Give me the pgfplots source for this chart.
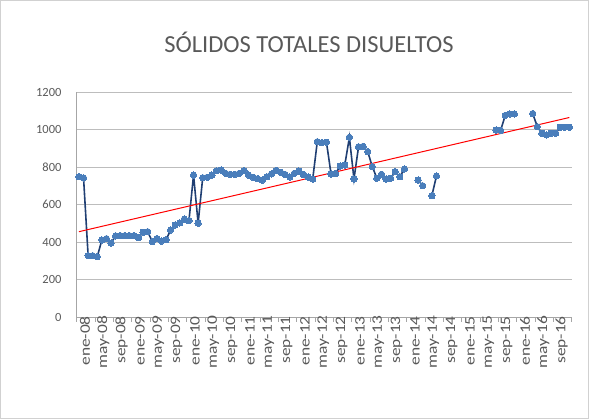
\documentclass[border=0pt]{standalone}
\usepackage{pgfplots}
\pgfplotsset{compat=1.18}
\usepackage{pgfplotstable}
\usepackage{fontspec}
\setmainfont{Carlito}
\newfontfamily\xtickfont[FakeStretch=1.2]{Carlito}
\definecolor{lineblue}{HTML}{203F73}
\definecolor{markblue}{HTML}{4A7EBB}
\definecolor{txtgray}{HTML}{595959}
\definecolor{gridgray}{HTML}{BDBDBD}
\definecolor{axgray}{HTML}{A6A6A6}

\pgfplotstableread{
m v
0 748
1 742
2 327
3 327
4 322
5 411
6 418
7 394
8 433
9 434
10 434
11 434
12 434
13 424
14 452
15 455
16 402
17 418
18 405
19 412
20 464
21 491
22 502
23 522
24 514
25 757
26 500
27 743
28 745
29 757
30 780
31 784
32 766
33 761
34 761
35 766
36 780
37 757
38 745
39 738
40 730
41 748
42 763
43 782
44 772
45 760
46 747
47 766
48 778
49 760
50 746
51 736
52 935
53 930
54 932
55 763
56 766
57 805
58 810
59 958
60 736
61 908
62 910
63 882
64 802
65 740
66 761
67 736
68 740
69 775
70 748
71 789
72 nan
73 nan
74 730
75 700
76 nan
77 647
78 752
79 nan
90 nan
91 997
92 995
93 1075
94 1083
95 1083
96 nan
98 nan
99 1085
100 1015
101 980
102 971
103 980
104 980
105 1012
106 1012
107 1012
}\sdt

\begin{document}
\begin{tikzpicture}[x=1pt,y=1pt]
\path[use as bounding box] (0,0) rectangle (589,419);
\draw[draw=black!18, line width=0.8pt] (0.4,0.4) rectangle (588.6,418.6);
\node[font=\fontsize{24.5}{26}\selectfont, text=txtgray, anchor=base] at (309,366) {SÓLIDOS TOTALES DISUELTOS};
\begin{axis}[
  at={(76.67pt,102pt)}, anchor=south west, scale only axis,
  width=495pt, height=225pt,
  xmin=-0.5, xmax=107.5, ymin=0, ymax=1200,
  ytick={0,200,...,1200},
  xtick={0,4,...,104},
  xticklabels={ene-08,may-08,sep-08,ene-09,may-09,sep-09,ene-10,may-10,sep-10,ene-11,may-11,sep-11,ene-12,may-12,sep-12,ene-13,may-13,sep-13,ene-14,may-14,sep-14,ene-15,may-15,sep-15,ene-16,may-16,sep-16},
  minor xtick={-0.5,3.5,...,107.5},
  major tick length=0pt,
  minor tick length=5pt,
  tick align=outside,
  minor tick style={draw=axgray, line width=0.8pt},
  axis x line*=bottom, axis y line*=left,
  axis line style={draw=axgray, line width=0.8pt, -},
  ymajorgrids, major grid style={draw=gridgray, line width=0.8pt},
  xminorgrids=false,
  ticklabel style={text=txtgray},
  yticklabel style={anchor=east, inner sep=0pt, xshift=-15pt, font=\fontsize{12.5}{13}\selectfont},
  xticklabel style={rotate=90, anchor=east, inner sep=0pt, yshift=-6pt, xshift=1pt, font=\xtickfont\fontsize{14.5}{15}\selectfont},
  /pgf/number format/assume math mode=true,
  /pgf/number format/1000 sep={},
  unbounded coords=jump,
  clip=false,
]
\addplot[color=lineblue, line width=1.6pt, mark=*, mark size=3.2pt, mark options={fill=markblue, draw=markblue, line width=0pt}] table[x=m,y=v] {\sdt};
\addplot[color=red, line width=1pt] coordinates {(0,455) (107,1064)};
\end{axis}
\end{tikzpicture}
\end{document}
